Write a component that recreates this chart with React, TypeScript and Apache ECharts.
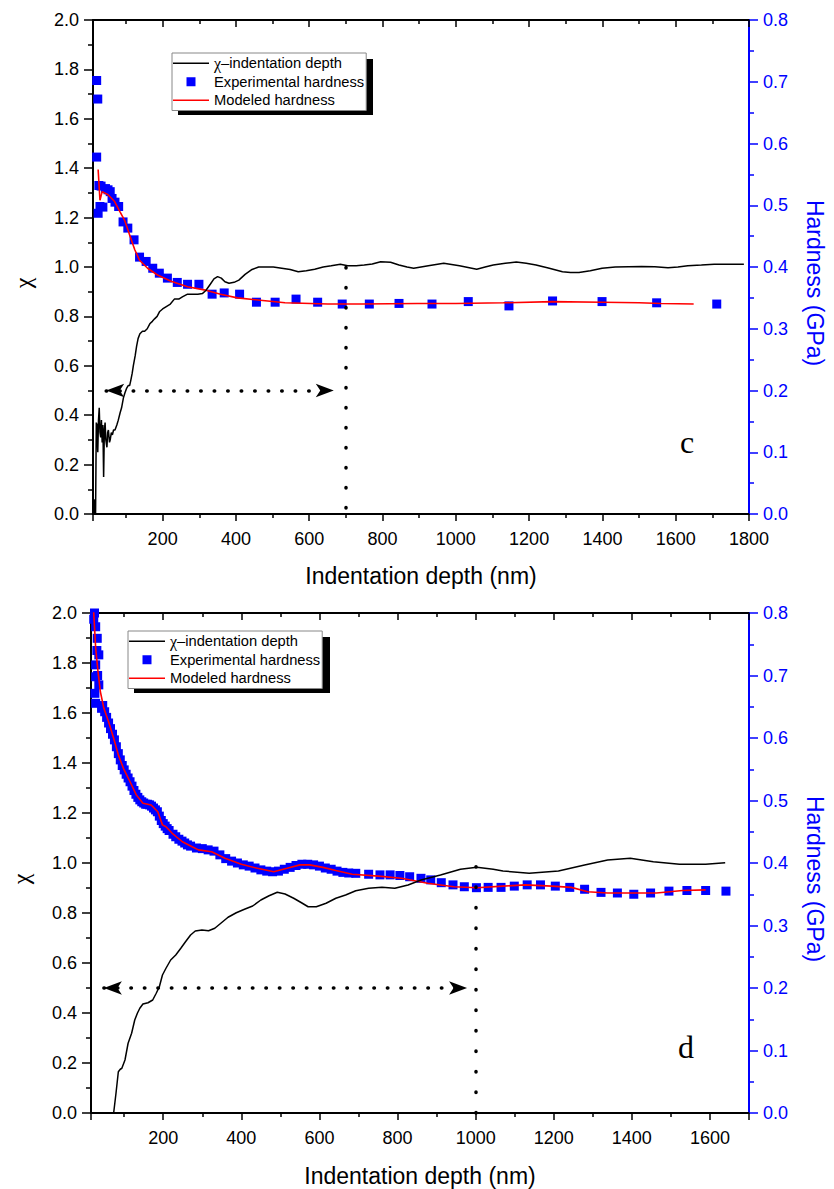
import React, { useEffect, useRef } from 'react';
import * as echarts from 'echarts';

const SANS = 'Arial, "Liberation Sans", sans-serif';
const SERIF = '"Times New Roman", "Liberation Serif", serif';
const BLUE = '#0000ff';
const RED = '#ff0000';

const NAME_CHI = 'χ–indentation depth';
const NAME_EXP = 'Experimental hardness';
const NAME_MOD = 'Modeled hardness';

// ---- panel c : [depth nm, value]
const cChi = [[13,0],[15,0.06],[17,0],[19,0.37],[21,0.36],[23,0.25],[25,0.38],[27,0.43],[29,0.33],[31,0.31],[33,0.38],[35,0.29],[37,0.36],[39,0.15],[41,0.34],[43,0.37],[45,0.30],[48,0.27],[50,0.33],[52,0.34],[55,0.29],[57,0.30],[60,0.33],[63,0.32],[66,0.34],[70,0.34],[75,0.36],[79,0.38],[84,0.41],[88,0.43],[93,0.47],[97,0.49],[102,0.51],[106,0.52],[110,0.52],[113,0.54],[117,0.57],[120,0.60],[125,0.64],[129,0.68],[133,0.71],[138,0.73],[145,0.74],[151,0.74],[158,0.75],[165,0.77],[172,0.78],[178,0.79],[185,0.80],[192,0.82],[200,0.83],[210,0.84],[221,0.85],[232,0.87],[244,0.87],[255,0.88],[268,0.89],[282,0.89],[296,0.89],[309,0.893],[318,0.905],[330,0.93],[340,0.952],[350,0.961],[360,0.955],[370,0.94],[381,0.934],[395,0.938],[408,0.947],[425,0.97],[444,0.99],[462,1.0],[480,1.0],[502,1.0],[525,0.995],[548,0.99],[570,0.981],[592,0.985],[615,0.991],[638,1.0],[660,1.005],[685,1.011],[705,1.005],[728,1.005],[750,1.008],[772,1.012],[795,1.021],[822,1.019],[845,1.008],[867,1.0],[885,0.995],[925,1.005],[967,1.015],[1010,1.005],[1057,0.991],[1080,1.0],[1102,1.008],[1135,1.015],[1165,1.02],[1192,1.015],[1219,1.008],[1255,0.995],[1291,0.981],[1313,0.978],[1336,0.978],[1367,0.985],[1399,0.995],[1435,1.0],[1471,1.001],[1507,1.002],[1543,1.001],[1579,0.997],[1606,1.0],[1633,1.005],[1670,1.008],[1705,1.011],[1745,1.011],[1786,1.011]];

const cExp = [[20,0.702],[23,0.672],[20,0.578],[24,0.487],[29,0.498],[26,0.532],[32,0.531],[37,0.497],[44,0.527],[51,0.525],[57,0.522],[62,0.511],[70,0.505],[80,0.498],[92,0.473],[105,0.463],[122,0.444],[137,0.416],[155,0.409],[173,0.398],[191,0.390],[213,0.382],[240,0.375],[268,0.372],[299,0.372],[335,0.356],[368,0.358],[410,0.356],[456,0.343],[507,0.343],[564,0.348],[623,0.343],[690,0.340],[764,0.340],[845,0.341],[935,0.340],[1034,0.344],[1145,0.337],[1264,0.345],[1399,0.344],[1548,0.342],[1712,0.340]];

const cMod = [[24,0.558],[29,0.508],[35,0.522],[51,0.517],[69,0.506],[83,0.490],[96,0.476],[110,0.452],[124,0.428],[137,0.411],[159,0.398],[186,0.387],[223,0.377],[268,0.368],[313,0.363],[358,0.356],[404,0.350],[453,0.347],[534,0.342],[651,0.340],[744,0.340],[895,0.341],[1000,0.341],[1130,0.342],[1264,0.344],[1400,0.343],[1500,0.342],[1560,0.341],[1649,0.340]];

// ---- panel d
const dChi = [[73,0.0],[79,0.079],[85,0.165],[90,0.175],[94,0.179],[102,0.212],[110,0.279],[119,0.319],[127,0.372],[134,0.40],[140,0.419],[148,0.436],[161,0.441],[173,0.452],[182,0.479],[190,0.505],[198,0.552],[207,0.579],[219,0.612],[232,0.632],[245,0.659],[257,0.685],[270,0.712],[282,0.728],[299,0.732],[316,0.729],[332,0.739],[349,0.761],[366,0.783],[387,0.801],[408,0.815],[429,0.828],[450,0.852],[471,0.869],[492,0.883],[512,0.876],[534,0.859],[554,0.841],[571,0.825],[592,0.825],[617,0.839],[642,0.859],[667,0.872],[693,0.889],[726,0.899],[760,0.903],[793,0.899],[827,0.912],[860,0.932],[910,0.952],[961,0.975],[1003,0.983],[1045,0.975],[1070,0.968],[1137,0.959],[1212,0.968],[1279,0.992],[1338,1.012],[1396,1.019],[1455,1.005],[1522,0.995],[1589,0.995],[1639,1.001]];

const dExp = [[22,0.79],[24,0.80],[27,0.778],[31,0.7595],[30,0.74],[35,0.733],[27,0.717],[32,0.70],[27,0.698],[35,0.685],[25,0.6715],[27,0.6555],[42,0.6475],[45,0.652],[50,0.642],[55,0.633],[60,0.624],[65,0.615],[70,0.606],[75,0.597],[80,0.586],[85,0.575],[90,0.565],[95,0.556],[100,0.549],[105,0.542],[110,0.536],[115,0.530],[120,0.523],[125,0.516],[130,0.510],[135,0.505],[140,0.501],[145,0.498],[150,0.496],[155,0.494],[160,0.494],[165,0.493],[170,0.491],[175,0.488],[180,0.485],[185,0.482],[190,0.475],[195,0.468],[200,0.463],[205,0.459],[210,0.455],[215,0.452],[225,0.446],[232,0.442],[240,0.438],[248,0.435],[255,0.432],[262,0.429],[270,0.427],[285,0.424],[300,0.423],[315,0.421],[330,0.419],[345,0.413],[360,0.407],[375,0.403],[390,0.400],[405,0.397],[420,0.395],[435,0.392],[450,0.389],[465,0.387],[480,0.386],[495,0.387],[510,0.390],[525,0.393],[540,0.396],[555,0.398],[570,0.398],[585,0.397],[600,0.395],[615,0.392],[630,0.390],[645,0.387],[660,0.385],[675,0.384],[693,0.3835],[726,0.382],[755,0.381],[781,0.381],[806,0.380],[831,0.378],[860,0.3755],[885,0.373],[912,0.3685],[942,0.365],[971,0.362],[1002,0.3605],[1032,0.361],[1065,0.361],[1099,0.363],[1132,0.365],[1166,0.365],[1204,0.363],[1241,0.361],[1279,0.358],[1321,0.353],[1363,0.352],[1405,0.350],[1448,0.352],[1495,0.355],[1541,0.356],[1589,0.356],[1641,0.355]];

const dMod = [[21,0.81],[22,0.800],[27,0.7435],[33,0.706],[39,0.674],[48,0.6475],[60,0.626],[73,0.5995],[85,0.573],[98,0.5515],[115,0.530],[131,0.509],[148,0.4955],[169,0.4928],[186,0.482],[198,0.461],[207,0.458],[223,0.4475],[249,0.434],[274,0.426],[290,0.421],[324,0.418],[358,0.4075],[400,0.398],[441,0.3915],[483,0.386],[517,0.3915],[550,0.397],[575,0.397],[609,0.393],[642,0.388],[684,0.382],[751,0.379],[810,0.3755],[877,0.3675],[944,0.362],[1003,0.3605],[1070,0.363],[1128,0.365],[1195,0.363],[1245,0.361],[1287,0.354],[1338,0.352],[1396,0.352],[1463,0.352],[1530,0.356],[1589,0.357]];

// axis ranges
const cXRange = [10, 1800];
const dXRange = [15, 1700];
const chiRange = [0, 2];
const hardRange = [0, 0.8];

// guide lines (dotted arrow at chi = 0.5 and vertical marker)
const cGuide = { from: 46, to: 667, x: 700, bottom: 0.024, top: 1.0, level: 0.5, gap: 19.5 };
const dGuide = { from: 48, to: 978, x: 1000, bottom: 0, top: 0.985, level: 0.5, gap: 20 };

const black = '#000';

function xAxesFor(gridIndex: number, range: number[], nameGap: number) {
  const common = {
    type: 'value',
    gridIndex,
    min: range[0],
    max: range[1],
    minInterval: 200,
    maxInterval: 200,
    splitLine: { show: false },
    minorSplitLine: { show: false },
  };
  return [
    {
      ...common,
      position: 'bottom',
      axisLine: { show: true, onZero: false, lineStyle: { color: black, width: 2 } },
      axisTick: { show: true, length: 7, lineStyle: { color: black, width: 1.5 } },
      minorTick: { show: true, splitNumber: 2, length: 4, lineStyle: { color: black, width: 1.5 } },
      axisLabel: {
        color: black, fontSize: 18, fontFamily: SANS, margin: 16,
        formatter: (v: number) => (v > 0 && v % 200 === 0 ? String(v) : ''),
      },
      name: 'Indentation depth (nm)',
      nameLocation: 'middle',
      nameGap,
      nameTextStyle: { color: black, fontSize: 23, fontFamily: SANS },
    },
    {
      ...common,
      position: 'top',
      axisLine: { show: true, onZero: false, lineStyle: { color: black, width: 2 } },
      axisTick: { show: true, inside: true, length: 7, lineStyle: { color: black, width: 1.5 } },
      minorTick: { show: true, splitNumber: 2, length: 4, lineStyle: { color: black, width: 1.5 } },
      axisLabel: { show: false },
    },
  ];
}

function yAxesFor(gridIndex: number) {
  return [
    {
      type: 'value', gridIndex, position: 'left',
      min: chiRange[0], max: chiRange[1], interval: 0.2,
      axisLine: { show: true, onZero: false, lineStyle: { color: black, width: 2 } },
      axisTick: { show: true, length: 9, lineStyle: { color: black, width: 1.5 } },
      minorTick: { show: true, splitNumber: 2, length: 5, lineStyle: { color: black, width: 1.5 } },
      splitLine: { show: false },
      axisLabel: { color: black, fontSize: 18, fontFamily: SANS, margin: 14, formatter: (v: number) => v.toFixed(1) },
      name: 'χ', nameLocation: 'middle', nameGap: 58,
      nameTextStyle: { color: black, fontSize: 24, fontFamily: SERIF, padding: [0, 32, 0, 0] },
    },
    {
      type: 'value', gridIndex, position: 'right',
      min: hardRange[0], max: hardRange[1], interval: 0.1,
      axisLine: { show: true, onZero: false, lineStyle: { color: BLUE, width: 2 } },
      axisTick: { show: true, length: 9, lineStyle: { color: BLUE, width: 1.5 } },
      minorTick: { show: true, splitNumber: 2, length: 5, lineStyle: { color: BLUE, width: 1.5 } },
      splitLine: { show: false },
      axisLabel: { color: BLUE, fontSize: 18, fontFamily: SANS, margin: 14, formatter: (v: number) => v.toFixed(1) },
      name: 'Hardness (GPa)', nameLocation: 'middle', nameGap: 54, nameRotate: -90,
      nameTextStyle: { color: BLUE, fontSize: 23, fontFamily: SANS, padding: [0, 0, 0, 32] },
    },
  ];
}

function seriesFor(xIdx: number, yLeft: number, yRight: number, chi: number[][], exp: number[][], mod: number[][], guide: any, sym: number) {
  return [
    {
      type: 'scatter', name: NAME_EXP, xAxisIndex: xIdx, yAxisIndex: yRight,
      data: exp, symbol: 'rect', symbolSize: sym, itemStyle: { color: BLUE, opacity: 1 }, z: 2, silent: true,
    },
    {
      type: 'line', name: NAME_MOD, xAxisIndex: xIdx, yAxisIndex: yRight,
      data: mod, symbol: 'none', showSymbol: false, smooth: false,
      lineStyle: { color: RED, width: 1.6 }, itemStyle: { color: RED }, z: 3, silent: true,
    },
    {
      type: 'line', name: NAME_CHI, xAxisIndex: xIdx, yAxisIndex: yLeft,
      data: chi, symbol: 'none', showSymbol: false,
      lineStyle: { color: black, width: 1.5 }, itemStyle: { color: black }, z: 3, silent: true,
      markLine: {
        silent: true,
        animation: false,
        label: { show: false },
        emphasis: { disabled: true },
        symbol: ['arrow', 'arrow'],
        symbolSize: [10, 18],
        itemStyle: { color: black },
        lineStyle: { color: black, width: 3.5, type: [0.5, 13], cap: 'round' },
        data: [
          [{ coord: [guide.from, guide.level] }, { coord: [guide.to, guide.level] }],
          [
            { coord: [guide.x, guide.bottom], symbol: 'none', lineStyle: { color: black, width: 3.5, type: [0.5, guide.gap], cap: 'round' } },
            { coord: [guide.x, guide.top], symbol: 'none' },
          ],
        ],
      },
    },
  ];
}

const LINE_ICON = 'path://M0,0 L36,0 L36,1.6 L0,1.6 Z';
const SQUARE_ICON = 'path://M0,0 L9,0 L9,9 L0,9 Z';

function legendFor(left: number, top: number) {
  return {
    left, top, orient: 'vertical',
    data: [
      { name: NAME_CHI, icon: LINE_ICON, itemStyle: { color: black } },
      { name: NAME_EXP, icon: SQUARE_ICON, itemStyle: { color: BLUE } },
      { name: NAME_MOD, icon: LINE_ICON, itemStyle: { color: RED } },
    ],
    itemWidth: 36, itemHeight: 9, itemGap: 2,
    padding: [2, 2, 2, 1],
    borderColor: '#888', borderWidth: 1, backgroundColor: '#fff',
    selectedMode: false,
    textStyle: {
      color: black, fontSize: 14.7, fontFamily: SANS, lineHeight: 16.5,
      rich: { g: { fontFamily: SERIF, fontSize: 16, color: black, lineHeight: 16.5 } },
    },
    formatter: (n: string) => (n === NAME_CHI ? '{g|χ}–indentation depth' : n),
  };
}

export default function App() {
  const ref = useRef<HTMLDivElement>(null);
  useEffect(() => {
    if (!ref.current) return;
    const chart = echarts.init(ref.current, null, { renderer: 'svg' });
    const option: any = {
      animation: false,
      backgroundColor: '#fff',
      grid: [
        { left: 93, top: 20, width: 661, height: 494 },
        { left: 91, top: 613, width: 670, height: 500 },
      ],
      xAxis: [...xAxesFor(0, cXRange, 50), ...xAxesFor(1, dXRange, 51)],
      yAxis: [...yAxesFor(0), ...yAxesFor(1)],
      legend: [legendFor(172, 53), legendFor(128, 631)],
      series: [
        ...seriesFor(0, 0, 1, cChi, cExp, cMod, cGuide, 9),
        ...seriesFor(2, 2, 3, dChi, dExp, dMod, dGuide, 9),
      ],
      graphic: [
        { type: 'rect', z: 1, shape: { x: 178, y: 59, width: 195, height: 56 }, style: { fill: '#000' } },
        { type: 'rect', z: 1, shape: { x: 134, y: 637, width: 196, height: 56 }, style: { fill: '#000' } },
        { type: 'text', z: 5, x: 687, y: 442, style: { text: 'c', font: `32px ${SERIF}`, fill: black, textAlign: 'center', textVerticalAlign: 'middle' } },
        { type: 'text', z: 5, x: 686, y: 1047, style: { text: 'd', font: `32px ${SERIF}`, fill: black, textAlign: 'center', textVerticalAlign: 'middle' } },
      ],
    };
    chart.setOption(option);
    return () => chart.dispose();
  }, []);
  return <div ref={ref} style={{ position: 'absolute', left: 0, top: 0, width: 834, height: 1189 }} />;
}
